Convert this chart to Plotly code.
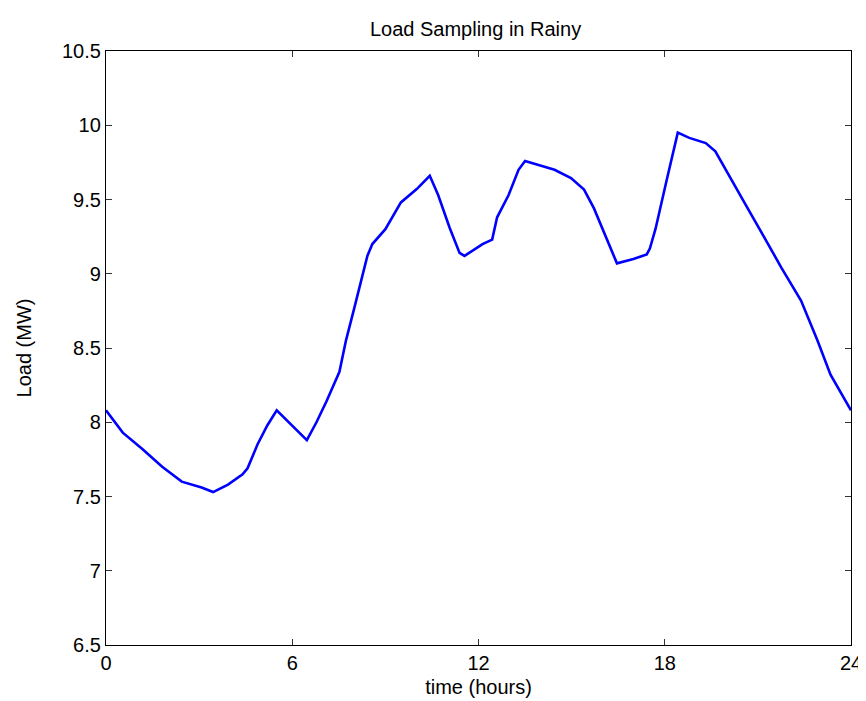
import plotly.graph_objects as go

# Data
hours = [0, 0.54, 1.17, 1.81, 2.44, 3.08, 3.45, 3.93, 4.4, 4.56, 4.88, 5.2, 5.5,
         6.04, 6.47, 6.78, 7.1, 7.52, 7.73, 8.0, 8.21, 8.42, 8.58, 9.0, 9.5,
         10.01, 10.43, 10.7, 11.07, 11.39, 11.55, 12.13, 12.44, 12.6, 12.97,
         13.29, 13.5, 13.92, 14.45, 14.98, 15.4, 15.72, 16.15, 16.46, 16.99,
         17.42, 17.52, 17.7, 18.05, 18.42, 18.79, 19.32, 19.63, 20.06, 20.59,
         21.22, 21.76, 22.39, 22.92, 23.34, 23.87, 24]
load_mw = [8.08, 7.93, 7.82, 7.70, 7.60, 7.56, 7.53, 7.58, 7.65, 7.69, 7.85, 7.98, 8.08,
           7.97, 7.88, 8.0, 8.14, 8.34, 8.55, 8.77, 8.95, 9.12, 9.2, 9.3, 9.48,
           9.57, 9.66, 9.53, 9.31, 9.14, 9.12, 9.2, 9.23, 9.38, 9.53,
           9.70, 9.76, 9.735, 9.70, 9.645, 9.567, 9.44, 9.22, 9.07, 9.10,
           9.13, 9.17, 9.3, 9.62, 9.95, 9.915, 9.88, 9.825, 9.67, 9.47,
           9.24, 9.04, 8.82, 8.55, 8.32, 8.12, 8.08]

x_ticks = [0, 6, 12, 18, 24]
x_tick_labels = ["0", "6", "12", "18", "24"]
y_ticks = [6.5, 7, 7.5, 8, 8.5, 9, 9.5, 10, 10.5]
y_tick_labels = ["6.5", "7", "7.5", "8", "8.5", "9", "9.5", "10", "10.5"]

FONT = "Liberation Sans, Arial, sans-serif"

fig = go.Figure()
fig.add_trace(go.Scatter(
    x=hours, y=load_mw, mode="lines",
    line=dict(color="#0000FF", width=2.6),
    showlegend=False,
))

axis_common = dict(
    showline=True, linecolor="black", linewidth=1.3, mirror="ticks",
    ticks="inside", ticklen=6, tickcolor="#333333", tickwidth=1,
    showgrid=False, zeroline=False,
    tickfont=dict(family=FONT, size=20, color="black"),
)

fig.update_layout(
    width=866, height=701,
    margin=dict(l=98, r=14, t=43, b=64),
    paper_bgcolor="white", plot_bgcolor="white",
    title=dict(text="Load Sampling in Rainy", x=0.496, xanchor="center", xref="paper",
               y=1 - 21 / 701, yanchor="middle", yref="container",
               font=dict(family=FONT, size=20, color="black")),
    xaxis=dict(range=[0, 24], tickvals=x_ticks, ticktext=x_tick_labels,
               title=dict(text="time (hours)", standoff=6,
                          font=dict(family=FONT, size=20, color="black")),
               **axis_common),
    yaxis=dict(range=[6.5, 10.5], tickvals=y_ticks, ticktext=y_tick_labels,
               title=dict(text="Load (MW)", standoff=24,
                          font=dict(family=FONT, size=20, color="black")),
               **axis_common),
)

fig.write_html("out.html")
